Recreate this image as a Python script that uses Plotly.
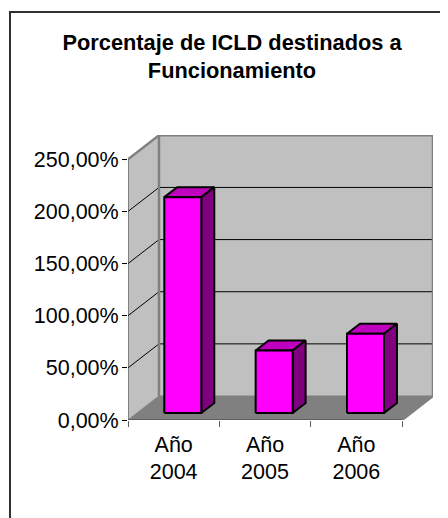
import plotly.graph_objects as go

categories = ["Año<br>2004", "Año<br>2005", "Año<br>2006"]
values = [207, 60, 76]
y_ticks = [0, 50, 100, 150, 200, 250]
y_labels = ["0,00%", "50,00%", "100,00%", "150,00%", "200,00%", "250,00%"]
title_text = "Porcentaje de ICLD destinados a<br>Funcionamiento"

# depth of the fake 3d box, in axis units
wall_dx = 0.339
wall_dy = 23
bar_dx = 0.142
bar_dy = 9.6
bar_width = 0.405
bar_shift = 0.1
bar_base = 6.7

WALL = "#C0C0C0"
FLOOR = "#808080"
EDGE = "#808080"
FONT = "Liberation Sans"

fig = go.Figure()


def poly(xs, ys, fill=None, color="black", width=1):
    fig.add_trace(go.Scatter(
        x=xs, y=ys, mode="lines",
        fill="toself" if fill else "none", fillcolor=fill,
        line=dict(color=color, width=width),
        hoverinfo="skip", showlegend=False,
    ))


top = y_ticks[-1]
n = len(values)

# walls and floor
poly([0, wall_dx, wall_dx, 0, 0], [0, wall_dy, top + wall_dy, top, 0], WALL, WALL, 1)
poly([wall_dx, n + wall_dx, n + wall_dx, wall_dx, wall_dx],
     [wall_dy, wall_dy, top + wall_dy, top + wall_dy, wall_dy], WALL, WALL, 1)
poly([0, n, n + wall_dx, wall_dx, 0], [0, 0, wall_dy, wall_dy, 0], FLOOR, FLOOR, 1)

# gridlines
for t in y_ticks[1:-1]:
    poly([0, wall_dx, n + wall_dx], [t, t + wall_dy, t + wall_dy], None, "black", 1)

# wall edges
poly([0, wall_dx, n + wall_dx, n + wall_dx, n], [top, top + wall_dy, top + wall_dy, wall_dy, 0], None, EDGE, 2.5)
poly([wall_dx, wall_dx], [wall_dy, top + wall_dy], None, EDGE, 2.5)
poly([0, 0], [0, top], None, "#404040", 1)
poly([0, n], [0, 0], None, "#404040", 1)

# bars
for i, v in enumerate(values):
    x0 = i + 0.5 + bar_shift - bar_width / 2
    x1 = x0 + bar_width
    y0 = bar_base
    y1 = bar_base + v
    poly([x0, x1, x1 + bar_dx, x0 + bar_dx, x0], [y1, y1, y1 + bar_dy, y1 + bar_dy, y1], "#BF00BF", "black", 2)
    poly([x1, x1 + bar_dx, x1 + bar_dx, x1, x1], [y0, y0 + bar_dy, y1 + bar_dy, y1, y0], "#800080", "black", 2)
    poly([x0, x1, x1, x0, x0], [y0, y0, y1, y1, y0], "#FF00FF", "black", 2)

# the page has an 8px body margin, so the figure is 8px smaller than the window
fig.update_layout(
    width=440, height=510, autosize=False,
    margin=dict(l=120, r=15, t=127, b=98, pad=0),
    paper_bgcolor="white", plot_bgcolor="white",
    font=dict(family=FONT, size=21.5, color="black"),
    title=dict(text=title_text, x=224 / 440, xanchor="center", y=1 - 41.5 / 510, yanchor="middle",
               font=dict(family=FONT, size=21.8, color="black", weight="bold")),
    # outer chart frame, runs off the page on the right and bottom
    shapes=[dict(type="rect", xref="paper", yref="paper",
                 x0=-118 / 305, x1=1.2, y0=-0.5, y1=408 / 285,
                 line=dict(color="#303030", width=2), layer="below")],
    xaxis=dict(range=[0, n + wall_dx], tickvals=[0.5, 1.5, 2.5], ticktext=categories,
               ticks="", showgrid=False, zeroline=False, showline=False, ticklabelstandoff=9,
               minor=dict(tickvals=[0, 1, 2, 3], ticks="outside", ticklen=6, tickcolor="#606060", tickwidth=1, showgrid=False)),
    yaxis=dict(range=[0, top + wall_dy + 0.3], tickvals=y_ticks, ticktext=y_labels,
               ticks="outside", ticklen=5, tickcolor="black", showgrid=False, zeroline=False,
               showline=False, ticklabelstandoff=-1),
)

fig.write_html("out.html")
